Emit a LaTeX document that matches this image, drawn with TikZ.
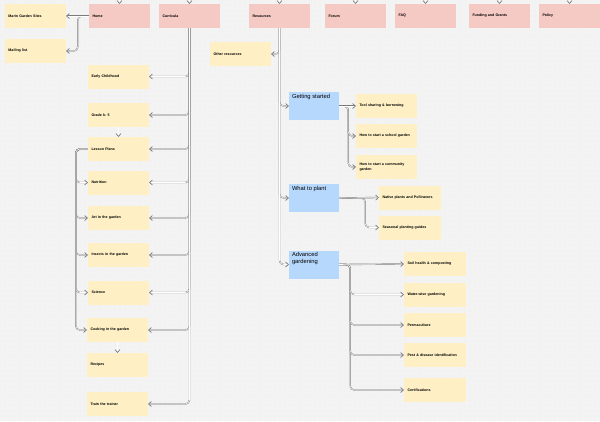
\documentclass[tikz,border=0pt]{standalone}
\usepackage{fontspec}
\setmainfont{Liberation Sans}
\usepackage{tikz}
\usetikzlibrary{arrows.meta, positioning, patterns.meta}
\usepackage{xcolor}

\definecolor{boardgrey}{HTML}{F3F3F3}
\definecolor{sitepink}{HTML}{F6CAC4}
\definecolor{noteyellow}{HTML}{FEF0C4}
\definecolor{topicblue}{HTML}{B6D8FD}
\definecolor{linkgrey}{HTML}{7A7A7A}

\tikzdeclarepattern{
  name=boarddots, type=uncolored,
  bottom left={(-1pt,-1pt)}, top right={(4pt,4pt)}, tile size={(5pt,5pt)},
  code={\fill (0,0) circle (0.45pt);}
}

\tikzset{
  card/.style={anchor=center, inner xsep=3.5pt, inner ysep=0pt, minimum height=24pt,
    text width=54pt, align=left, font=\fontsize{3.6}{4.6}\selectfont\bfseries},
  sitebox/.style={card, fill=sitepink},
  notebox/.style={card, fill=noteyellow},
  widenote/.style={notebox, text width=55pt},
  topicbox/.style={anchor=center, fill=topicblue, inner xsep=3pt, inner ysep=2pt,
    font=\fontsize{5.8}{7.2}\selectfont},
  link/.style={draw=linkgrey, double=white, double distance=0.55pt, line width=0.4pt,
    rounded corners=4pt,
    -{Straight Barb[length=2.6pt, width=5pt, line width=0.7pt, color=linkgrey]}}
}
\newcommand{\topictext}[1]{\parbox[c][24pt][t]{44pt}{\raggedright #1}}

\begin{document}
\begin{tikzpicture}[x=1pt, y=-1pt]
      \useasboundingbox (0,0) rectangle (600,421);
      \clip (0,0) rectangle (600,421);
      \fill[boardgrey] (0,0) rectangle (600,421);
      \fill[pattern=boarddots, pattern color=black!14] (0,0) rectangle (600,421);

      % top row
      \node[sitebox] (home) at (119.5,16) {Home};
      \node[sitebox] (curr) at (189.5,16) {Curricula};
      \node[sitebox] (res) at (279.5,16) {Resources};
      \node[sitebox] (forum) at (355.5,16) {Forum};
      \node[sitebox] (faq) at (425.5,16) {FAQ};
      \node[sitebox] (fund) at (499.5,16) {Funding and Grants};
      \node[sitebox] (policy) at (569.5,16) {Policy};

      \node[notebox] (marin) at (35.5,16) {Marin Garden Sites};
      \node[notebox] (mail) at (35.5,51) {Mailing list};

      % curricula column
      \node[notebox] (early) at (118.5,76.5) {Early Childhood};
      \node[notebox] (grade) at (118.5,115) {Grade k- 5};
      \node[notebox] (lesson) at (118.5,149) {Lesson Plans};
      \node[notebox] (nutr) at (118.5,182.5) {Nutrition};
      \node[notebox] (art) at (118.5,218) {Art in the garden};
      \node[notebox] (insect) at (118.5,255) {Insects in the garden};
      \node[notebox] (science) at (118.5,292.5) {Science};
      \node[notebox] (cook) at (117.5,330) {Cooking in the garden};
      \node[notebox] (recipe) at (117.5,365) {Recipes};
      \node[notebox] (trainer) at (117.5,404) {Train the trainer};

      % resources column
      \node[notebox] (other) at (240.5,54) {Other resources};
      \node[topicbox] (start) at (314,106) {\topictext{Getting started}};
      \node[topicbox] (plant) at (314,198) {\topictext{What to plant}};
      \node[topicbox] (adv) at (314,264.5) {\topictext{Advanced\\gardening}};

      \node[notebox] (tool) at (386.5,106) {Tool sharing \& borrowing};
      \node[notebox] (school) at (386.5,136) {How to start a school garden};
      \node[notebox] (commun) at (386.5,167) {How to start a community\\garden};
      \node[widenote] (native) at (410,197.5) {Native plants and Pollinators};
      \node[widenote] (season) at (410,227.5) {Seasonal planting guides};
      \node[widenote] (soil) at (435,264) {Soil health \& composting};
      \node[widenote] (water) at (435,294.5) {Water-wise gardening};
      \node[widenote] (perma) at (435,325) {Permaculture};
      \node[widenote] (pest) at (435,355) {Pest \& disease identification};
      \node[widenote] (cert) at (435,390) {Certifications};

      % links
      \foreach \n in {home,curr,res,forum,faq,fund,policy}
        \draw[link] (\n.north) ++(0,-10) -- (\n.north);

      \draw[link] (home.west) -- ++(-11,0) |- (mail.east);
      \draw[link] (home.west) -- (marin.east);

      \foreach \n in {early,grade,lesson,nutr,art,insect,science,cook,trainer}
        \draw[link] (curr.south) |- (\n.east);
      \draw[link] (grade.south) -- (lesson.north);
      \draw[link] (cook.south) -- (recipe.north);
      \foreach \n in {nutr,art,insect,science,cook}
        \draw[link] (lesson.west) -- ++(-12,0) |- (\n.west);

      \draw[link] (res.south) |- (other.east);
      \foreach \n in {start,plant,adv}
        \draw[link] (res.south) |- (\n.west);
      \foreach \n in {commun,school}
        \draw[link] (start.east) -- ++(9,0) |- (\n.west);
      \draw[link] (start.east) -- (tool.west);
      \draw[link] (plant.east) -- ++(26,0) |- (season.west);
      \draw[link] (plant.east) -- (native.west);
      \foreach \n in {cert,pest,perma,water}
        \draw[link] (adv.east) -- ++(11,0) |- (\n.west);
      \draw[link] (adv.east) -- (soil.west);
    \end{tikzpicture}
\end{document}
